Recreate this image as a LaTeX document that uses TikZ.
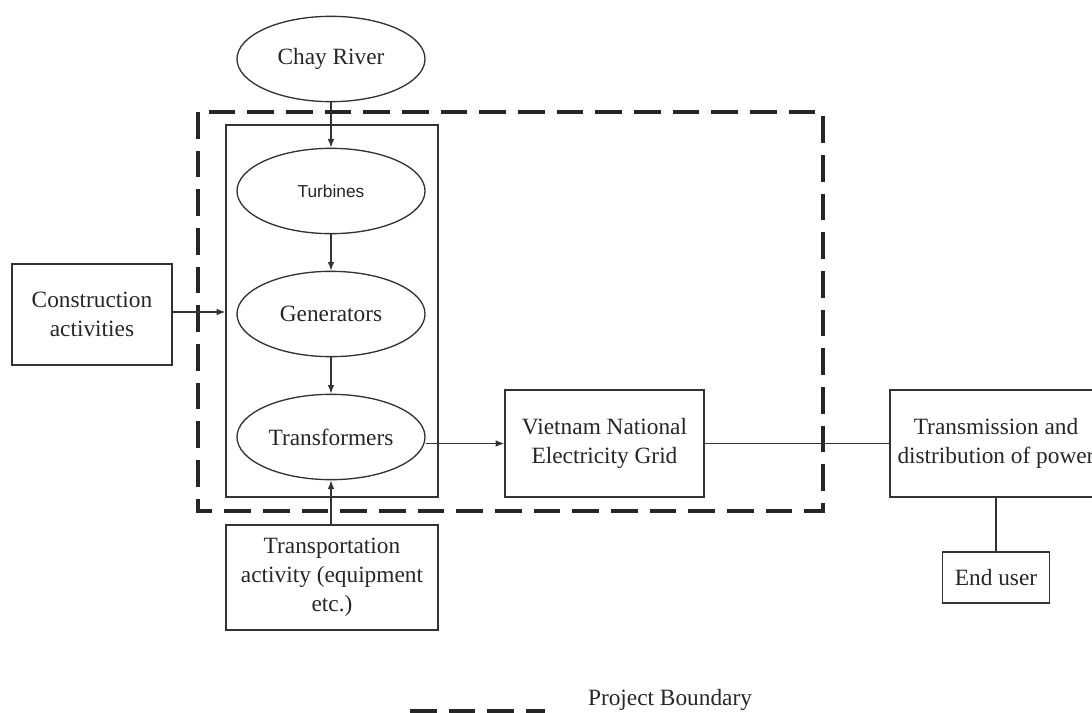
\documentclass[tikz,border=0pt]{standalone}
\usepackage{fontspec}
\setmainfont{Liberation Serif}
\newfontfamily\arialfont{Liberation Sans}
\usetikzlibrary{arrows.meta,shapes.geometric}

\begin{document}
\begin{tikzpicture}[x=0.75pt,y=-0.75pt,
  every node/.style={font=\fontsize{17.5}{21.75}\selectfont, text=black!85},
  line/.style={draw=black!80, line width=1pt},
  arrowline/.style={line, -{Latex[length=6.5pt,width=5pt]}},
  oval/.style={ellipse, line, inner sep=0pt, minimum width=141pt, minimum height=64pt},
  box/.style={rectangle, line, inner sep=0pt, align=center},
  boundary/.style={draw=black!85, line width=2.4pt, dash pattern=on 20pt off 9pt}
]
\useasboundingbox (0,0) rectangle (1092,713);

% source and generation chain
\node[oval] (river) at (331,59) {Chay River};
\node[box, minimum width=159pt, minimum height=279pt] (core) at (332,311) {};
\node[oval, font=\arialfont\fontsize{13}{16}\selectfont] (turb) at (331,191) {Turbines};
\node[oval] (gen) at (331,314) {Generators};
\node[oval] (trf) at (331,437) {Transformers};

% external activities
\node[box, minimum width=120pt, minimum height=75.75pt] (constr) at (92,314.5) {Construction\\activities};
\node[box, minimum width=159pt, minimum height=78.75pt] (transp) at (332,577.5) {Transportation\\activity (equipment\\etc.)};

% grid and distribution
\node[box, minimum width=149.25pt, minimum height=80.25pt] (grid) at (604.5,443.5) {Vietnam National\\Electricity Grid};
\node[box, minimum width=159pt, minimum height=80.25pt] (trans) at (996,443.5) {Transmission and\\distribution of power};
\node[box, minimum width=80.25pt, minimum height=38.25pt] (user) at (996,577.5) {End user};

% project boundary
\draw[boundary] (198,112) rectangle (823,511);

% connectors
\draw[arrowline] (river.south) -- (turb.north);
\draw[arrowline] (turb.south) -- (gen.north);
\draw[arrowline] (gen.south) -- (trf.north);
\draw[arrowline] (constr.east |- 0,312) -- (core.west |- 0,312);
\draw[arrowline] (trf.south |- transp.north) -- (trf.south);
\draw[arrowline] (trf.east |- grid.west) -- (grid.west);
\draw[line] (grid.east) -- (trans.west);
\draw[line] (trans.south) -- (user.north);

% legend
\coordinate (legA) at (410,711);
\coordinate (legB) at (545,711);
\draw[boundary] (legA) -- (legB);
\node (legtext) at (670,700) {Project Boundary};
\end{tikzpicture}
\end{document}
